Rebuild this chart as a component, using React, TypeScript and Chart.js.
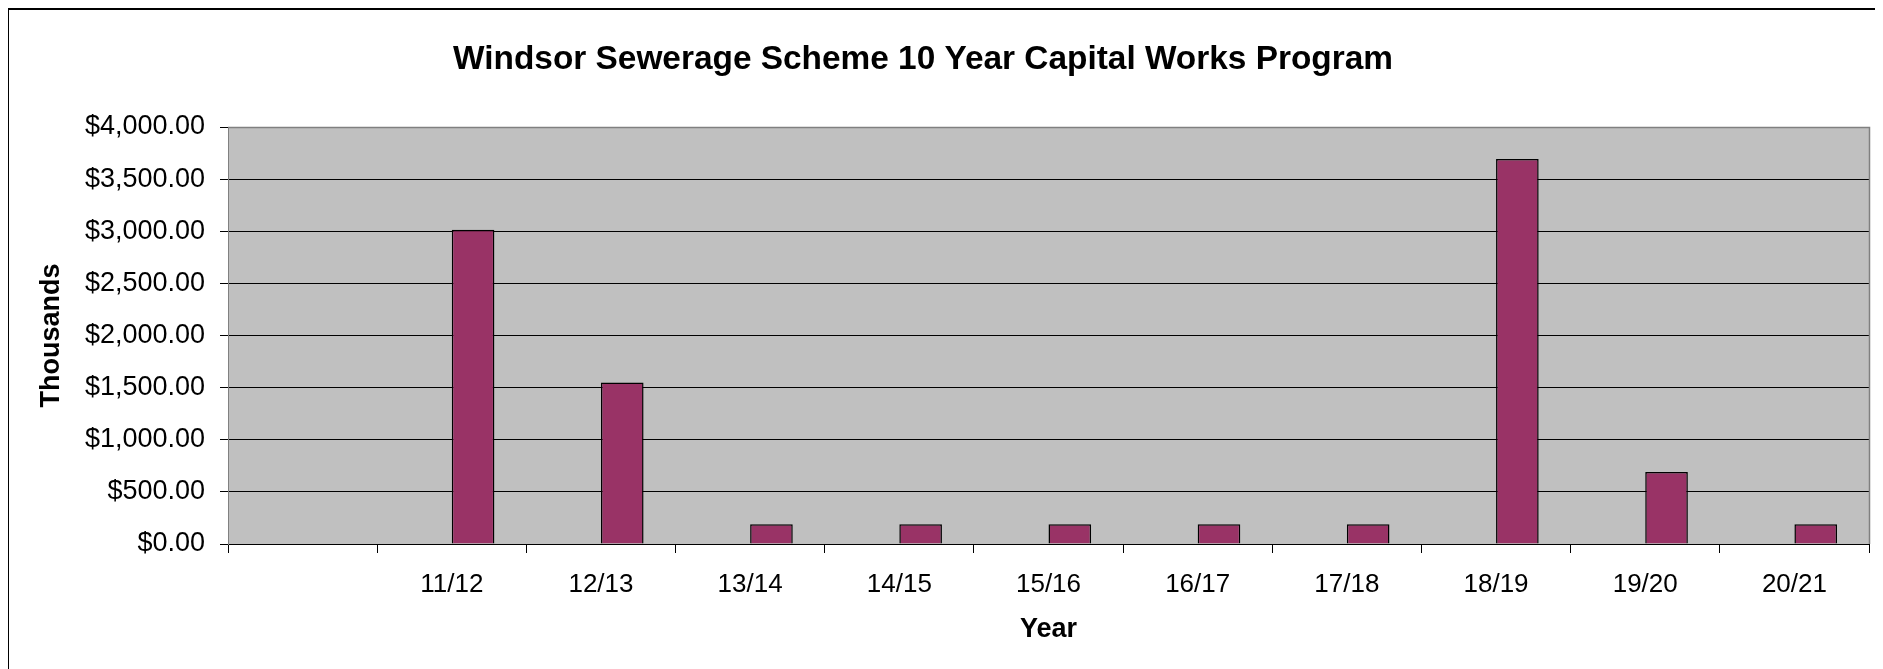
import React, { useEffect, useRef } from "react";
import { Chart, registerables } from "chart.js";

Chart.register(...registerables);

const TITLE = "Windsor Sewerage Scheme 10 Year Capital Works Program";
const categories = ["", "11/12", "12/13", "13/14", "14/15", "15/16", "16/17", "17/18", "18/19", "19/20", "20/21"];
const series1Values: (number | null)[] = [null, null, null, null, null, null, null, null, null, null, null];
const series2Values: (number | null)[] = [null, 3015, 1548, 190, 190, 190, 190, 190, 3692, 690, 190];
const yTicks = [0, 500, 1000, 1500, 2000, 2500, 3000, 3500, 4000];

const FONT = "'Liberation Sans', Arial, sans-serif";

const fmt = new Intl.NumberFormat("en-US", { minimumFractionDigits: 2, maximumFractionDigits: 2 });

export default function App() {
  const ref = useRef<HTMLCanvasElement | null>(null);

  useEffect(() => {
    document.body.style.overflow = "hidden";
    const canvas = ref.current;
    if (!canvas) return;

    const bgPlugin = {
      id: "plotBg",
      beforeDraw(chart: any) {
        const { ctx, chartArea } = chart;
        ctx.save();
        ctx.fillStyle = "#ffffff";
        ctx.fillRect(0, 0, chart.width, chart.height);
        ctx.fillStyle = "#C0C0C0";
        ctx.fillRect(chartArea.left, chartArea.top, chartArea.right - chartArea.left, chartArea.bottom - chartArea.top);
        ctx.restore();
      },
      beforeDatasetsDraw(chart: any) {
        const { ctx, chartArea } = chart;
        ctx.save();
        ctx.strokeStyle = "#808080";
        ctx.lineWidth = 1.5;
        ctx.beginPath();
        ctx.moveTo(chartArea.left, chartArea.top + 0.5);
        ctx.lineTo(chartArea.right + 0.5, chartArea.top + 0.5);
        ctx.lineTo(chartArea.right + 0.5, chartArea.bottom);
        ctx.stroke();
        ctx.restore();
      },
      afterDraw(chart: any) {
        const { ctx } = chart;
        ctx.save();
        ctx.fillStyle = "#000";
        ctx.font = `bold 33.4px ${FONT}`;
        ctx.textAlign = "center";
        ctx.textBaseline = "middle";
        ctx.fillText(TITLE, 914, 50);
        ctx.restore();
      },
    };

    const chart = new Chart(canvas, {
      type: "bar",
      data: {
        labels: categories,
        datasets: [
          {
            label: "Series1",
            data: series1Values,
            backgroundColor: "#9999FF",
            borderColor: "#000",
            borderWidth: 1.5,
          },
          {
            label: "Series2",
            data: series2Values,
            backgroundColor: "#993366",
            borderColor: "#000",
            borderWidth: 1.5,
          },
        ],
      },
      options: {
        animation: false,
        responsive: false,
        devicePixelRatio: 1,
        layout: { padding: { top: 117, right: 14, bottom: 0, left: 0 } },
        datasets: {
          bar: { categoryPercentage: 2 / 3.5, barPercentage: 1 },
        },
        plugins: {
          legend: { display: false },
          title: { display: false },
          tooltip: { enabled: false },
        },
        scales: {
          x: {
            offset: true,
            grid: {
              display: true,
              offset: true,
              drawOnChartArea: false,
              drawTicks: true,
              tickLength: 9,
              tickColor: "#000",
              color: "#000",
            },
            border: { display: true, color: "#000", width: 1 },
            ticks: {
              color: "#000",
              font: { family: FONT, size: 26 },
              padding: 16,
              maxRotation: 0,
              autoSkip: false,
            },
            title: {
              display: true,
              text: "Year",
              color: "#000",
              font: { family: FONT, size: 27, weight: "bold" },
              padding: { top: 0, bottom: 23 },
            },
            afterFit(scale: any) {
              scale.height = 125;
            },
          },
          y: {
            min: 0,
            max: 4000,
            afterBuildTicks(scale: any) {
              scale.ticks = yTicks.map((v) => ({ value: v }));
            },
            grid: {
              color: (ctx: any) => (ctx.tick && ctx.tick.value === 4000 ? "#808080" : "#000"),
              tickColor: "#000",
              tickLength: 8,
              lineWidth: 1,
            },
            border: { display: true, color: "#808080", width: 1 },
            ticks: {
              color: "#000",
              font: { family: FONT, size: 27 },
              padding: 15,
              callback: (v: any) => "$" + fmt.format(Number(v)),
            },
            title: {
              display: true,
              text: "Thousands",
              color: "#000",
              font: { family: FONT, size: 27, weight: "bold" },
              padding: { top: 26, bottom: 0 },
            },
            afterFit(scale: any) {
              scale.width = 219;
            },
          },
        },
      },
      plugins: [bgPlugin],
    } as any);

    return () => {
      chart.destroy();
    };
  }, []);

  return (
    <div
      style={{
        borderTop: "2px solid #000",
        borderLeft: "1px solid #000",
        width: 1874,
        height: 659,
        background: "#fff",
      }}
    >
      <canvas ref={ref} width={1874} height={659} style={{ display: "block", width: 1874, height: 659 }} />
    </div>
  );
}
